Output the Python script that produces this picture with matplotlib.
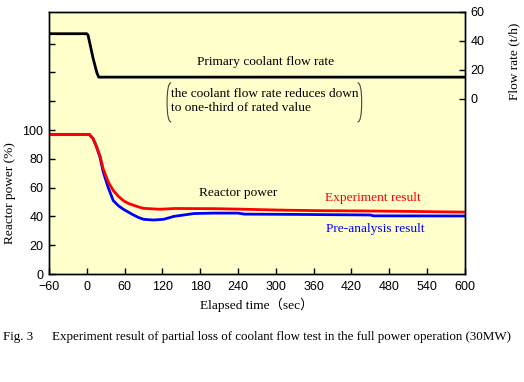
import matplotlib
matplotlib.use("Agg")
import matplotlib.pyplot as plt
from matplotlib.path import Path
from matplotlib.patches import PathPatch

# primary coolant flow rate (t/h), right axis
flow_t = [-60, 0, 2, 4, 7, 10, 13, 16, 19, 600]
flow_v = [45, 45, 44, 40, 34, 28, 23, 18, 15, 15]

# reactor power (%), experiment
exp_t = [-60, 4, 10, 15, 21, 26, 34, 42, 50, 58, 66, 74, 82, 90, 116, 140, 200, 240, 276, 320, 372, 440, 510, 560, 600]
exp_v = [97, 97, 94, 89, 82, 73, 64, 58, 54, 51, 49, 47.8, 46.6, 45.6, 45, 45.5, 45.4, 45.1, 44.7, 44.3, 44, 43.8, 43.5, 43.2, 43]

# reactor power (%), pre-analysis
pre_t = [-60, 4, 10, 15, 21, 26, 34, 42, 50, 58, 66, 74, 82, 90, 106, 122, 138, 154, 170, 200, 240, 250, 330, 450, 455, 600]
pre_v = [97, 97, 94, 89, 81, 71, 60, 51, 47.5, 45, 43, 41, 39.3, 38, 37.5, 38, 40, 41, 42, 42.3, 42.3, 41.6, 41.4, 41, 40.4, 40.3]

xticks = list(range(-60, 601, 60))

serif = ["Liberation Serif", "Noto Sans CJK JP", "DejaVu Serif"]
sans = ["Liberation Sans", "DejaVu Sans"]
FS = 9.6

fig = plt.figure(figsize=(5.24, 3.82), dpi=100)
ax = fig.add_axes([0.0935, 0.2827, 0.7935, 0.6859])
ax.set_facecolor("#FFFFCC")
ax2 = ax.twinx()

ax.plot(exp_t, exp_v, color="red", lw=2, zorder=3)
ax.plot(pre_t, pre_v, color="blue", lw=2, zorder=2)
ax2.plot(flow_t, flow_v, color="black", lw=2)

ax.set_xlim(-60, 600)
ax.set_ylim(0, 182)
ax2.set_ylim(-121, 60)

ax.set_xticks(xticks)
ax.set_yticks(range(0, 161, 20))
ax.set_yticklabels([str(v) if v <= 100 else "" for v in range(0, 161, 20)])
ax2.set_yticks([0, 20, 40, 60])

for a in (ax, ax2):
    a.tick_params(direction="in", length=4, width=1, labelsize=9, pad=4)
    for lab in a.get_xticklabels() + a.get_yticklabels():
        lab.set_family(sans)
    for s in a.spines.values():
        s.set_linewidth(1)
ax.tick_params(axis="x", pad=5)

ax.set_xlabel("Elapsed time\uff08sec\uff09", family=serif, fontsize=FS, labelpad=3)
ax.set_ylabel("Reactor power (%)", family=serif, fontsize=FS, labelpad=4)
ax.yaxis.set_label_coords(-0.08, 0.31)
ax2.set_ylabel("Flow rate (t/h)", family=serif, fontsize=FS, labelpad=6)
ax2.yaxis.set_label_coords(1.105, 0.81)

ax.text(0.52, 0.81, "Primary coolant flow rate", transform=ax.transAxes,
        family=serif, fontsize=FS, ha="center", va="center")
ax.text(0.293, 0.66, "the coolant flow rate reduces down\nto one-third of rated value",
        transform=ax.transAxes, family=serif, fontsize=FS, ha="left", va="center",
        linespacing=1.3)

# brackets round the note
def bracket(x0, x1, y0, y1):
    verts = [(x1, y1), (x0, y1), (x0, (y0 + y1) / 2), (x0, (y0 + y1) / 2),
             (x0, y0), (x1, y0)]
    codes = [Path.MOVETO, Path.CURVE3, Path.CURVE3, Path.MOVETO, Path.CURVE3, Path.CURVE3]
    ax.add_patch(PathPatch(Path(verts, codes), transform=ax.transAxes, fill=False,
                           lw=0.8, color="#444444"))

bracket(0.284, 0.294, 0.58, 0.73)
bracket(0.752, 0.742, 0.58, 0.73)

ax.text(0.455, 0.31, "Reactor power", transform=ax.transAxes, family=serif,
        fontsize=FS, ha="center", va="center")
ax.text(0.78, 0.29, "Experiment result", transform=ax.transAxes, family=serif,
        fontsize=FS, ha="center", va="center", color="red")
ax.text(0.785, 0.17, "Pre-analysis result", transform=ax.transAxes, family=serif,
        fontsize=FS, ha="center", va="center", color="blue")

fig.text(0.006, 0.118, "Fig. 3", family=serif, fontsize=9.4, ha="left", va="center")
fig.text(0.099, 0.118, "Experiment result of partial loss of coolant flow test in the full power operation (30MW)",
         family=serif, fontsize=9.4, ha="left", va="center")

fig.savefig("out.png", dpi=100)
